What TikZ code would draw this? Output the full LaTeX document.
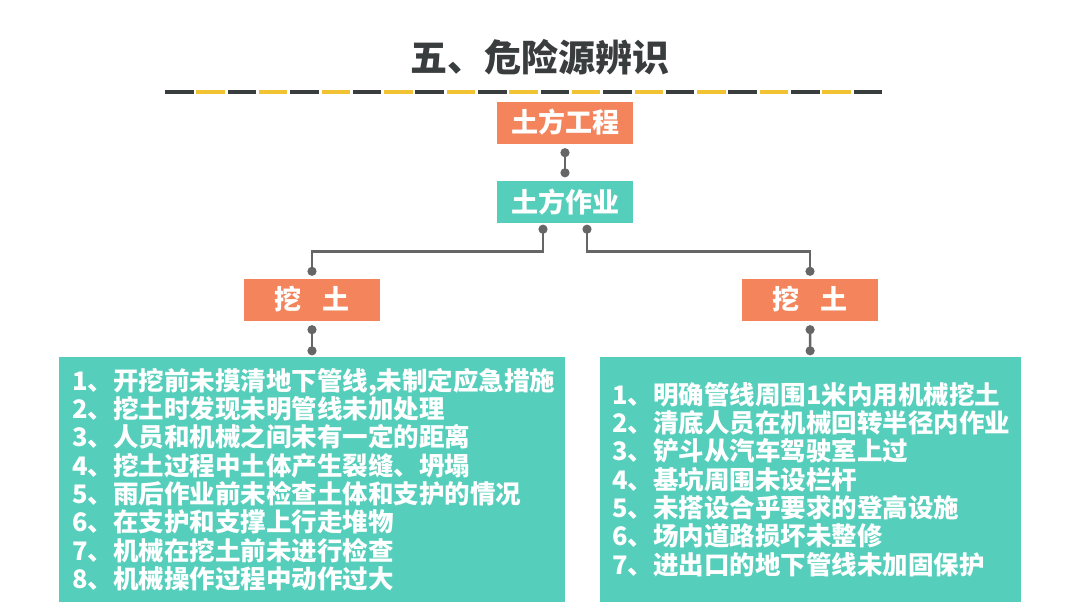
\documentclass[tikz,border=0pt]{standalone}
\usepackage{fontspec}
\setmainfont{Noto Sans CJK SC}
\usetikzlibrary{arrows.meta}

\definecolor{boxorange}{HTML}{F4845C}
\definecolor{boxteal}{HTML}{55CEBB}
\definecolor{linkgray}{HTML}{666666}
\definecolor{titlegray}{HTML}{3A3D3E}
\definecolor{dashyellow}{HTML}{F1C232}

\tikzset{
    headbox/.style={fill=#1, text=white, font=\bfseries\fontsize{27}{27}\selectfont,
        minimum width=136, minimum height=42, inner sep=0},
    listbox/.style={fill=boxteal, minimum height=245, inner sep=0},
    listtext/.style={text=white, align=left, anchor=west, inner sep=0,
        font=\bfseries\fontsize{25.5}{28.3}\selectfont},
    link/.style={draw=linkgray, line width=2.5, {Circle[length=9pt]}-{Circle[length=9pt]}},
    dashbar/.style={line width=4, draw=#1}
}

\begin{document}
\begin{tikzpicture}[x=1pt,y=-1pt]
            \useasboundingbox (0,0) rectangle (1080,608);

            \node[text=titlegray, font=\bfseries\fontsize{37}{37}\selectfont] (title) at (540,57) {五、危险源辨识};

            \foreach \i in {0,2,...,22} {
                \draw[dashbar=titlegray] (165+\i*31.3,92) -- ++(28.5,0);
            }
            \foreach \i in {1,3,...,21} {
                \draw[dashbar=dashyellow] (165+\i*31.3,92) -- ++(28.5,0);
            }

            \node[headbox=boxorange] (works) at (565,122.5) {土方工程};
            \node[headbox=boxteal] (ops) at (565,202) {土方作业};
            \node[headbox=boxorange] (digL) at (312,299.5) {挖\hspace{0.75em}土};
            \node[headbox=boxorange] (digR) at (810,299.5) {挖\hspace{0.75em}土};

            \node[listbox, minimum width=506] (listL) at (312,479.5) {};
            \node[listbox, minimum width=421] (listR) at (810.5,479.5) {};

            \node[listtext] (itemsL) at ([xshift=13]listL.west) {%
                1、开挖前未摸清地下管线,未制定应急措施\\
                2、挖土时发现未明管线未加处理\\
                3、人员和机械之间未有一定的距离\\
                4、挖土过程中土体产生裂缝、坍塌\\
                5、雨后作业前未检查土体和支护的情况\\
                6、在支护和支撑上行走堆物\\
                7、机械在挖土前未进行检查\\
                8、机械操作过程中动作过大};
            \node[listtext] (itemsR) at ([xshift=12]listR.west) {%
                1、明确管线周围1米内用机械挖土\\
                2、清底人员在机械回转半径内作业\\
                3、铲斗从汽车驾驶室上过\\
                4、基坑周围未设栏杆\\
                5、未搭设合乎要求的登高设施\\
                6、场内道路损坏未整修\\
                7、进出口的地下管线未加固保护};

            \draw[link, shorten <=4.5, shorten >=3.5] (works) -- (ops);
            \draw[link, shorten <=1.5, shorten >=2.5] ([xshift=-22]ops.south) |- ([yshift=27]digL.north) -- (digL.north);
            \draw[link, shorten <=1.5, shorten >=2.5] ([xshift=22]ops.south) |- ([yshift=27]digR.north) -- (digR.north);
            \draw[link, shorten <=4.5, shorten >=1.5] (digL) -- (listL);
            \draw[link, shorten <=4.5, shorten >=1.5] (digR) -- (listR);
        \end{tikzpicture}
\end{document}
